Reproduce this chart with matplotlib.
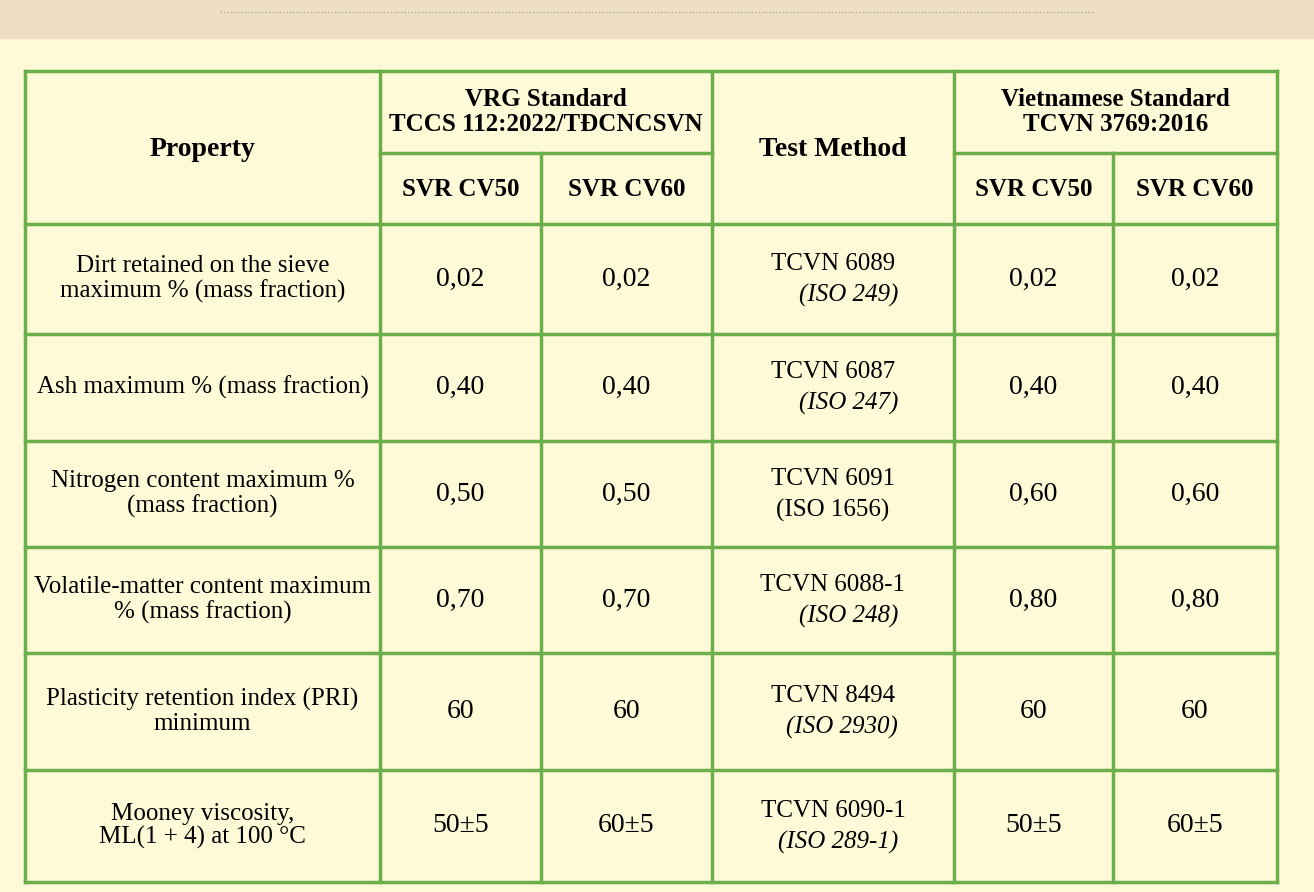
import matplotlib.pyplot as plt
from matplotlib.patches import Rectangle

properties = ["Dirt retained on the sieve\nmaximum % (mass fraction)",
              "Ash maximum % (mass fraction)",
              "Nitrogen content maximum %\n(mass fraction)",
              "Volatile-matter content maximum\n% (mass fraction)",
              "Plasticity retention index (PRI)\nminimum",
              "Mooney viscosity,\nML(1 + 4) at 100 °C"]
vrg_cv50 = ["0,02", "0,40", "0,50", "0,70", "60", "50±5"]
vrg_cv60 = ["0,02", "0,40", "0,50", "0,70", "60", "60±5"]
methods = ["TCVN 6089", "TCVN 6087", "TCVN 6091", "TCVN 6088-1", "TCVN 8494", "TCVN 6090-1"]
iso_refs = ["(ISO 249)", "(ISO 247)", "(ISO 1656)", "(ISO 248)", "(ISO 2930)", "(ISO 289-1)"]
iso_italic = [True, True, False, True, True, True]
vn_cv50 = ["0,02", "0,40", "0,60", "0,80", "60", "50±5"]
vn_cv60 = ["0,02", "0,40", "0,60", "0,80", "60", "60±5"]

xs = [25, 380, 541, 712, 954, 1113, 1277]
ys = [71, 153, 224, 334, 441, 547, 653, 770, 882]
green = "#6AAF4A"
font = "Liberation Serif"

fig = plt.figure(figsize=(13.14, 8.92), dpi=100)
fig.patch.set_facecolor("#FEFAD8")
ax = fig.add_axes([0, 0, 1, 1])
ax.set_xlim(0, 1314)
ax.set_ylim(892, 0)
ax.axis("off")

# top decorative strip
ax.add_patch(Rectangle((0, 0), 1314, 38, color="#EEDFC2", zorder=0))
ax.plot([220, 1095], [12, 12], color="#B0A898", lw=1, ls=(0, (1, 1.5)))

def line(x0, y0, x1, y1):
    ax.plot([x0, x1], [y0, y1], color=green, lw=2.5, solid_capstyle="projecting")

# grid
for y in [ys[0], ys[2]] + ys[3:]:
    line(xs[0], y, xs[-1], y)
line(xs[1], ys[1], xs[3], ys[1])
line(xs[4], ys[1], xs[6], ys[1])
for x in [xs[0], xs[1], xs[3], xs[4], xs[6]]:
    line(x, ys[0], x, ys[-1])
for x in [xs[2], xs[5]]:
    line(x, ys[1], x, ys[-1])

def txt(x, y, s, size=18, weight="normal", style="normal", ha="center"):
    ax.text(x, y, s, fontsize=size, fontweight=weight, fontstyle=style,
            ha=ha, va="center", family=font, linespacing=1.1)

def cx(i):
    return (xs[i] + xs[i + 1]) / 2

# header
txt(cx(0), 150, "Property", 20, "bold")
txt(cx(3), 150, "Test Method", 20, "bold")
txt((xs[1] + xs[3]) / 2, 112, "VRG Standard\nTCCS 112:2022/TĐCNCSVN", 18, "bold")
txt((xs[4] + xs[6]) / 2, 112, "Vietnamese Standard\nTCVN 3769:2016", 18, "bold")
for i in [1, 2, 4, 5]:
    txt(cx(i), 189, "SVR CV50" if i in (1, 4) else "SVR CV60", 18, "bold")

# body
for r in range(len(properties)):
    yc = (ys[r + 2] + ys[r + 3]) / 2
    txt(cx(0), yc, properties[r], 18)
    txt(cx(1), yc, vrg_cv50[r], 20)
    txt(cx(2), yc, vrg_cv60[r], 20)
    txt(cx(4), yc, vn_cv50[r], 20)
    txt(cx(5), yc, vn_cv60[r], 20)
    txt(cx(3), yc - 15, methods[r], 18)
    if iso_italic[r]:
        ax.text(cx(3) + 65, yc + 16, iso_refs[r], fontsize=18, fontstyle="italic",
                ha="right", va="center", family=font)
    else:
        txt(cx(3), yc + 16, iso_refs[r], 18)

fig.savefig("out.png", dpi=100, facecolor=fig.get_facecolor())
